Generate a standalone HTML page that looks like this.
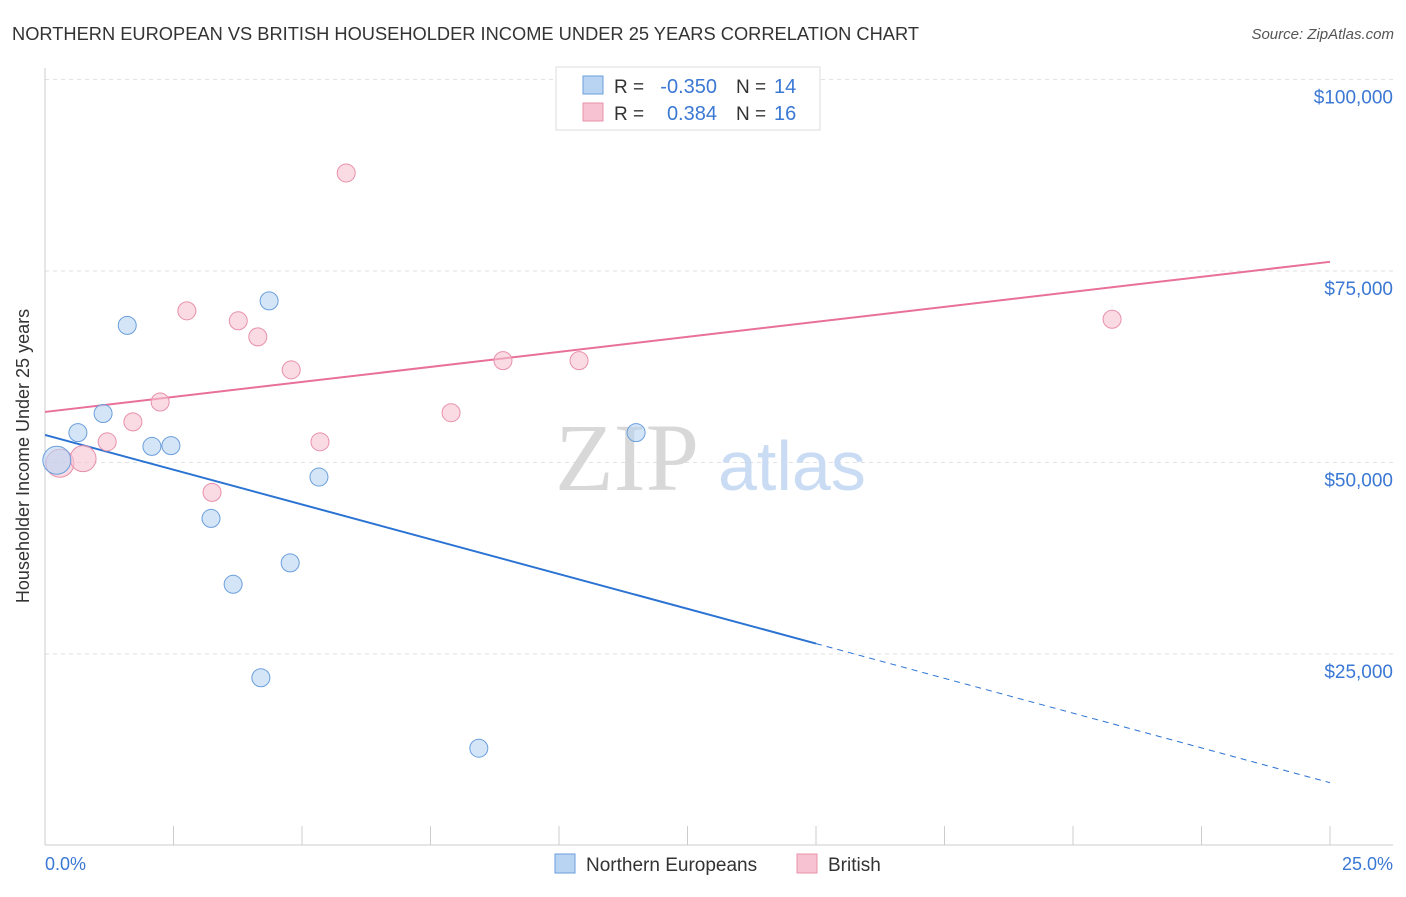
<!DOCTYPE html>
<html><head><meta charset="utf-8"><style>
body{margin:0;background:#fff;font-family:"Liberation Sans",sans-serif;}
</style></head><body>
<svg width="1406" height="892" xmlns="http://www.w3.org/2000/svg" style="font-family:'Liberation Sans',sans-serif">
<text x="12" y="40" font-size="18" fill="#333" textLength="907" lengthAdjust="spacingAndGlyphs">NORTHERN EUROPEAN VS BRITISH HOUSEHOLDER INCOME UNDER 25 YEARS CORRELATION CHART</text>
<text x="1394" y="39" font-size="15" fill="#555" font-style="italic" text-anchor="end">Source: ZipAtlas.com</text>
<g id="grid"></g>
<text x="555" y="490" font-size="96" fill="#d8d8d8" font-family="Liberation Serif">ZIP</text>
<text x="718" y="490" font-size="70" fill="#c9dcf3">atlas</text>
<g id="lines"></g>
<g id="points"></g>
<text x="29" y="456" font-size="18" fill="#333" text-anchor="middle" transform="rotate(-90 29 456)">Householder Income Under 25 years</text>
<text x="45" y="870" font-size="18" fill="#3a78d4">0.0%</text>
<text x="1393" y="870" font-size="18" fill="#3a78d4" text-anchor="end">25.0%</text>
<g>
<rect x="556" y="67" width="264" height="63" fill="#fff" stroke="#ddd"/>
<rect x="583" y="76" width="20" height="18" fill="#b9d3f3" stroke="#6a9fdc"/>
<rect x="583" y="103" width="20" height="18" fill="#f7c3d2" stroke="#e890aa"/>
<text x="614" y="93" font-size="19" fill="#333">R =</text>
<text x="717" y="93" font-size="20" fill="#3a78d4" text-anchor="end">-0.350</text>
<text x="736" y="93" font-size="19" fill="#333">N =</text>
<text x="774" y="93" font-size="20" fill="#3a78d4">14</text>
<text x="614" y="120" font-size="19" fill="#333">R =</text>
<text x="717" y="120" font-size="20" fill="#3a78d4" text-anchor="end">0.384</text>
<text x="736" y="120" font-size="19" fill="#333">N =</text>
<text x="774" y="120" font-size="20" fill="#3a78d4">16</text>
</g>
<g>
<rect x="555" y="854" width="20" height="19" fill="#b9d3f3" stroke="#6a9fdc"/>
<text x="586" y="871" font-size="19" fill="#333">Northern Europeans</text>
<rect x="797" y="854" width="20" height="19" fill="#f7c3d2" stroke="#e890aa"/>
<text x="828" y="871" font-size="19" fill="#333">British</text>
</g>
</svg>
<script>
const yTicks=[25,50,75,100];
const yTickLabels=["$25,000","$50,000","$75,000","$100,000"];
const blueX=[0.23,0.64,1.13,1.60,2.08,2.45,3.23,3.66,4.20,4.36,4.77,5.33,8.44,11.50];
const blueY=[50.3,53.9,56.4,67.9,52.1,52.2,42.7,34.1,21.9,71.1,36.9,48.1,12.7,53.9];
const blueR=[14,9,9,9,9,9,9,9,9,9,9,9,9,9];
const pinkX=[0.29,0.74,1.21,1.71,2.24,2.76,3.25,3.76,4.14,4.79,5.35,5.86,7.90,8.91,10.39,20.76];
const pinkY=[49.9,50.5,52.7,55.3,57.9,69.8,46.1,68.5,66.4,62.1,52.7,87.8,56.5,63.3,63.3,68.7];
const pinkR=[14,13,9,9,9,9,9,9,9,9,9,9,9,9,9,9];
const blueTrend=[53.6,8.2]; const blueSolidEnd=15;
const pinkTrend=[56.6,76.2];
const NS="http://www.w3.org/2000/svg";
const sx=v=>45+v/25*1285, sy=v=>845.5-v*7.66;
function mk(t,a,p){const e=document.createElementNS(NS,t);for(const k in a)e.setAttribute(k,a[k]);p.appendChild(e);return e;}
const g=document.getElementById('grid');
yTicks.forEach((t,i)=>{
 const l=mk('line',{x1:45,x2:1393,y1:sy(t),y2:sy(t),stroke:'#e2e2e2','stroke-dasharray':'4,4'},g);
 
 
 const tx=mk('text',{x:1393,y:sy(t)+24,'font-size':19,fill:'#3a78d4','text-anchor':'end'},g);
 tx.textContent=yTickLabels[i];
 
 
});
const ax=mk('line',{x1:45,x2:1393,y1:845,y2:845,stroke:'#ccc'},g);


const ay=mk('line',{x1:45,x2:45,y1:68,y2:845,stroke:'#ccc'},g);


for(let i=1;i<=10;i++){const t=mk('line',{x1:sx(i*2.5),x2:sx(i*2.5),y1:826,y2:845,stroke:'#ccc'},g);
 
 }
const L=document.getElementById('lines');
const bAt=x=>blueTrend[0]+(blueTrend[1]-blueTrend[0])*x/25;
let e=mk('line',{x1:sx(0),y1:sy(bAt(0)),x2:sx(blueSolidEnd),y2:sy(bAt(blueSolidEnd)),stroke:'#2b73d2','stroke-width':2},L);


e=mk('line',{x1:sx(blueSolidEnd),y1:sy(bAt(blueSolidEnd)),x2:sx(25),y2:sy(bAt(25)),stroke:'#2b73d2','stroke-width':1,'stroke-dasharray':'6,5'},L);


e=mk('line',{x1:sx(0),y1:sy(pinkTrend[0]),x2:sx(25),y2:sy(pinkTrend[1]),stroke:'#e8709a','stroke-width':2},L);


const P=document.getElementById('points');
pinkX.forEach((x,i)=>{const c=mk('circle',{cx:sx(x),cy:sy(pinkY[i]),r:pinkR[i],fill:'#f7c3d2','fill-opacity':0.6,stroke:'#e890aa'},P);
 
 });
blueX.forEach((x,i)=>{const c=mk('circle',{cx:sx(x),cy:sy(blueY[i]),r:blueR[i],fill:'#b9d3f3','fill-opacity':0.6,stroke:'#6a9fdc'},P);
 
 });
</script>
</body></html>
